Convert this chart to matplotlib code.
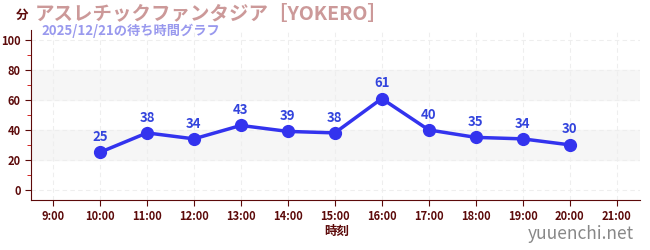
import matplotlib
matplotlib.use("Agg")
import matplotlib.pyplot as plt
from matplotlib.ticker import MultipleLocator

plt.rcParams['font.family'] = ['Noto Sans CJK JP', 'DejaVu Sans']

hours = [10, 11, 12, 13, 14, 15, 16, 17, 18, 19, 20]
waits = [25, 38, 34, 43, 39, 38, 61, 40, 35, 34, 30]
tick_hours = list(range(9, 22))
tick_labels = ["%d:00" % h for h in tick_hours]

title = "アスレチックファンタジア［YOKERO］"
subtitle = "2025/12/21の待ち時間グラフ"

fig = plt.figure(figsize=(6.5, 2.5), dpi=100)
ax = fig.add_axes([31 / 650, 50 / 250, 609 / 650, 170 / 250])

dark = "#5c0a0a"
ax.set_xlim(8.53, 21.5)
ax.set_ylim(-7, 107)

# gray bands
for lo, hi in [(20, 40), (60, 80)]:
    ax.axhspan(lo, hi, color="#f6f6f6", zorder=0)

ax.set_yticks([0, 20, 40, 60, 80, 100])
ax.yaxis.set_minor_locator(MultipleLocator(10))
ax.set_xticks(tick_hours)
ax.set_xticklabels(tick_labels)
ax.grid(True, which="major", color="#eeeeee", linestyle=(0, (4, 3)), linewidth=0.8)

for s in ["top", "right"]:
    ax.spines[s].set_visible(False)
ax.spines["left"].set_color(dark)
ax.spines["bottom"].set_color(dark)
ax.tick_params(axis="both", which="major", colors=dark, length=4, labelsize=8)
ax.tick_params(axis="y", which="minor", colors="#cc0000", length=3)
for lab in ax.get_xticklabels() + ax.get_yticklabels():
    lab.set_fontweight("bold")
    lab.set_color(dark)

ax.plot(hours, waits, color="#3333ee", linewidth=2.5, marker="o", markersize=8.5, zorder=3)
for h, w in zip(hours, waits):
    ax.annotate(str(w), (h, w), xytext=(0, 6), textcoords="offset points",
                ha="center", va="bottom", color="#3344dd", fontsize=9.5, fontweight="bold")

fig.text(16 / 650, 1 - 15 / 250, "分", color=dark, fontsize=9, fontweight="bold", ha="left", va="center")
fig.text(35 / 650, 1 - 14 / 250, title, color="#cc9999", fontsize=14, fontweight="bold", ha="left", va="center")
fig.text(41 / 650, 1 - 31 / 250, subtitle, color="#9999ee", fontsize=9.5, fontweight="bold", ha="left", va="center")
fig.text(337 / 650, 1 - 231 / 250, "時刻", color=dark, fontsize=9, fontweight="bold", ha="center", va="center")
fig.text(634 / 650, 1 - 234 / 250, "yuuenchi.net", color="#888888", fontsize=12.5, ha="right", va="center")

fig.savefig("out.png", dpi=100)
